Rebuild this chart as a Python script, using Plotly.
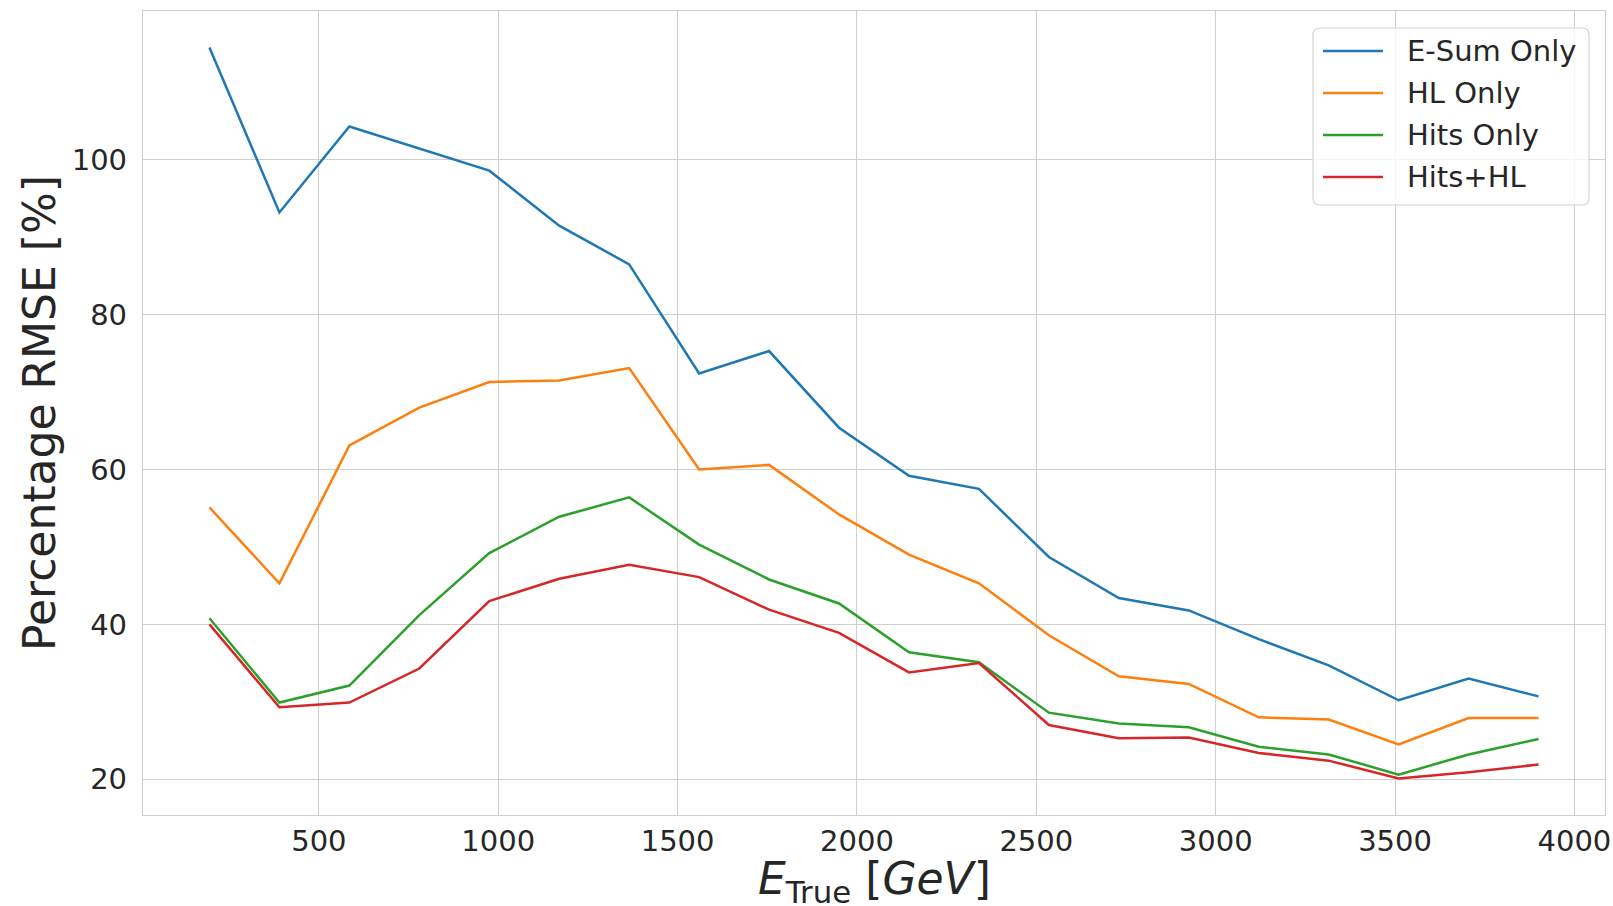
import plotly.graph_objects as go

# Energy bins (GeV) and percentage RMSE for each regression input set
energy_gev = [195, 390, 585, 780, 975, 1170, 1365, 1560, 1755, 1950,
              2145, 2340, 2535, 2730, 2925, 3120, 3315, 3510, 3705, 3900]

esum_only = [114.5, 93.2, 104.3, 101.4, 98.6, 91.5, 86.5, 72.4, 75.3, 65.4,
             59.2, 57.5, 48.7, 43.4, 41.8, 38.1, 34.7, 30.2, 33.0, 30.7]
hl_only = [55.1, 45.3, 63.1, 68.0, 71.3, 71.5, 73.1, 60.0, 60.6, 54.2,
           49.0, 45.3, 38.6, 33.3, 32.3, 28.0, 27.7, 24.5, 27.9, 27.9]
hits_only = [40.8, 29.9, 32.1, 41.2, 49.2, 53.9, 56.4, 50.3, 45.8, 42.7,
             36.4, 35.1, 28.6, 27.2, 26.7, 24.2, 23.2, 20.6, 23.2, 25.2]
hits_hl = [40.0, 29.3, 29.9, 34.3, 43.0, 45.9, 47.7, 46.1, 41.9, 38.9,
           33.8, 35.0, 27.0, 25.3, 25.4, 23.4, 22.4, 20.1, 20.9, 21.9]

series_names = ["E-Sum Only", "HL Only", "Hits Only", "Hits+HL"]
series_values = [esum_only, hl_only, hits_only, hits_hl]
series_colors = ["#1f77b4", "#ff7f0e", "#2ca02c", "#d62728"]

x_ticks = [500, 1000, 1500, 2000, 2500, 3000, 3500, 4000]
y_ticks = [20, 40, 60, 80, 100]

W, H = 1613, 906
L, R, T, B = 143, 1605, 11, 815     # plot area in page pixels
TEXT = "#262626"
GRID = "#cfcfcf"
FONT = "DejaVu Sans"


def px_x(p):
    return (p - L) / (R - L)


def px_y(p):
    return (B - p) / (B - T)


fig = go.Figure()
for name, vals, col in zip(series_names, series_values, series_colors):
    fig.add_trace(go.Scatter(x=energy_gev, y=vals, mode="lines", name=name,
                             line=dict(color=col, width=2.5), showlegend=False))

# axis limits with 5% padding around the data
xmin, xmax = min(energy_gev), max(energy_gev)
all_y = [v for s in series_values for v in s]
ymin, ymax = min(all_y), max(all_y)
xpad = 0.05 * (xmax - xmin)
ypad = 0.05 * (ymax - ymin)

axis_common = dict(showline=True, mirror=True, linecolor=GRID, linewidth=1.25,
                   showgrid=True, gridcolor=GRID, gridwidth=1, zeroline=False,
                   ticks="", ticklabeloverflow="allow", automargin=False,
                   tickfont=dict(family=FONT, size=29, color=TEXT))

fig.update_xaxes(range=[xmin - xpad, xmax + xpad], tickvals=x_ticks,
                 ticklabelstandoff=0, **axis_common)
fig.update_yaxes(range=[ymin - ypad, ymax + ypad], tickvals=y_ticks,
                 ticklabelstandoff=9, **axis_common)

annotations = [
    dict(text="Percentage RMSE [%]", textangle=-90, xref="paper", yref="paper",
         x=px_x(39), y=0.5, xanchor="center", yanchor="middle", showarrow=False,
         font=dict(family=FONT, size=44, color=TEXT)),
    dict(text="<i>E</i><sub>True</sub> [<i>GeV</i>]", xref="paper", yref="paper",
         x=0.5, y=px_y(882), xanchor="center", yanchor="middle", showarrow=False,
         font=dict(family=FONT, size=44, color=TEXT)),
]

# legend box with rounded corners
bx0, bx1, by0, by1, rad = 1313, 1589, 28, 205, 7
rx = rad / (R - L)
ry = rad / (B - T)
X0, X1, Y0, Y1 = px_x(bx0), px_x(bx1), px_y(by1), px_y(by0)
box_path = (f"M {X0 + rx},{Y0} L {X1 - rx},{Y0} Q {X1},{Y0} {X1},{Y0 + ry} "
            f"L {X1},{Y1 - ry} Q {X1},{Y1} {X1 - rx},{Y1} "
            f"L {X0 + rx},{Y1} Q {X0},{Y1} {X0},{Y1 - ry} "
            f"L {X0},{Y0 + ry} Q {X0},{Y0} {X0 + rx},{Y0} Z")
shapes = [dict(type="path", path=box_path, xref="paper", yref="paper",
               fillcolor="rgba(255,255,255,0.8)", line=dict(color="#d4d4d4", width=1.2),
               layer="above")]

row_y = [51, 93, 135, 177]
for name, col, ry_px in zip(series_names, series_colors, row_y):
    shapes.append(dict(type="line", xref="paper", yref="paper",
                       x0=px_x(1323), x1=px_x(1383), y0=px_y(ry_px), y1=px_y(ry_px),
                       line=dict(color=col, width=2.5), layer="above"))
    annotations.append(dict(text=name, xref="paper", yref="paper",
                            x=px_x(1405), y=px_y(ry_px), xanchor="left", yanchor="middle",
                            showarrow=False, font=dict(family=FONT, size=29, color=TEXT)))

fig.update_layout(width=W, height=H, margin=dict(l=L, r=W - R, t=T, b=H - B),
                  plot_bgcolor="white", paper_bgcolor="white",
                  shapes=shapes, annotations=annotations,
                  font=dict(family=FONT, color=TEXT))

fig.write_html("out.html")
